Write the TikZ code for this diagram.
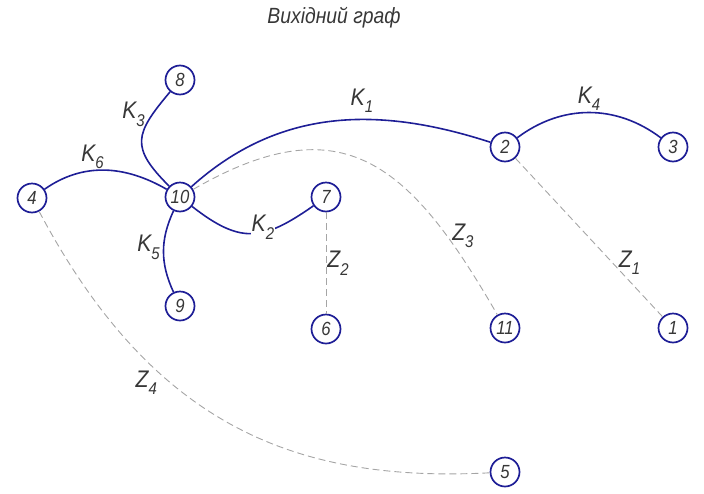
\documentclass[tikz,border=0pt]{standalone}
\usepackage{fontspec}
\setmainfont{Liberation Sans}[FakeStretch=0.88]
\usetikzlibrary{positioning}
\definecolor{graphblue}{RGB}{30,30,150}
\definecolor{linkgray}{RGB}{165,165,165}
\definecolor{inkgray}{RGB}{55,55,55}
\newcommand{\edgelab}[2]{#1\raisebox{-7.5pt}{\fontsize{17}{17}\selectfont #2}}

\begin{document}
\begin{tikzpicture}[
    x=1pt, y=1pt,
    every node/.style={text=inkgray},
    vertex/.style={draw=graphblue, circle, line width=1.7pt, minimum size=29pt, inner sep=0pt, fill=white, font=\fontsize{19}{19}\selectfont\itshape},
    tree/.style={draw=graphblue, line width=1.6pt},
    chord/.style={draw=linkgray, line width=0.9pt, dash pattern=on 7pt off 4pt},
    lbl/.style={font=\fontsize{24}{24}\selectfont\itshape, inner sep=1pt}
]
\useasboundingbox (0,0) rectangle (704,-493);
\node[font=\fontsize{22}{22}\selectfont\itshape] (title) at (334,-18) {Вихідний граф};

% vertices
\node[vertex] (v10) at (180,-197) {10};
\node[vertex] (v8) at (180,-80) {8};
\node[vertex] (v4) at (32,-198) {4};
\node[vertex] (v9) at (180,-306) {9};
\node[vertex] (v7) at (326,-197) {7};
\node[vertex] (v6) at (326,-329) {6};
\node[vertex] (v2) at (505,-147) {2};
\node[vertex] (v3) at (673,-147) {3};
\node[vertex] (v11) at (505,-328) {11};
\node[vertex] (v1) at (673,-328) {1};
\node[vertex] (v5) at (505,-472) {5};

% chords (dashed)
\draw[chord] (v2) -- node[lbl, pos=0.66, right=5pt] {\edgelab{Z}{1}} (v1);
\draw[chord] (v7) -- node[lbl, pos=0.5, right] {\edgelab{Z}{2}} (v6);
\draw[chord] (v10) to[out=30, in=120, looseness=1.35] node[lbl, pos=0.8, right=4pt] {\edgelab{Z}{3}} (v11);
\draw[chord] (v4) to[out=-62, in=183, out looseness=1.15] node[lbl, pos=0.36, left=12pt] {\edgelab{Z}{4}} (v5);

% tree branches
\draw[tree] (v10) to[out=42, in=162] node[lbl, pos=0.6, above=5pt] {\edgelab{K}{1}} (v2);
\draw[tree] (v10) to[out=-38, in=-145, looseness=1.3] node[lbl, pos=0.6, above=-9pt, fill=white] {\edgelab{K}{2}} (v7);
\draw[tree] (v10) to[out=135, in=230, looseness=1.5] node[lbl, pos=0.8, left=6pt] {\edgelab{K}{3}} (v8);
\draw[tree] (v2) to[out=37, in=143] node[lbl, pos=0.5, above] {\edgelab{K}{4}} (v3);
\draw[tree] (v10) to[out=245, in=115] node[lbl, pos=0.45, left=2pt] {\edgelab{K}{5}} (v9);
\draw[tree] (v4) to[out=35, in=150] node[lbl, pos=0.4, above] {\edgelab{K}{6}} (v10);
\end{tikzpicture}
\end{document}
